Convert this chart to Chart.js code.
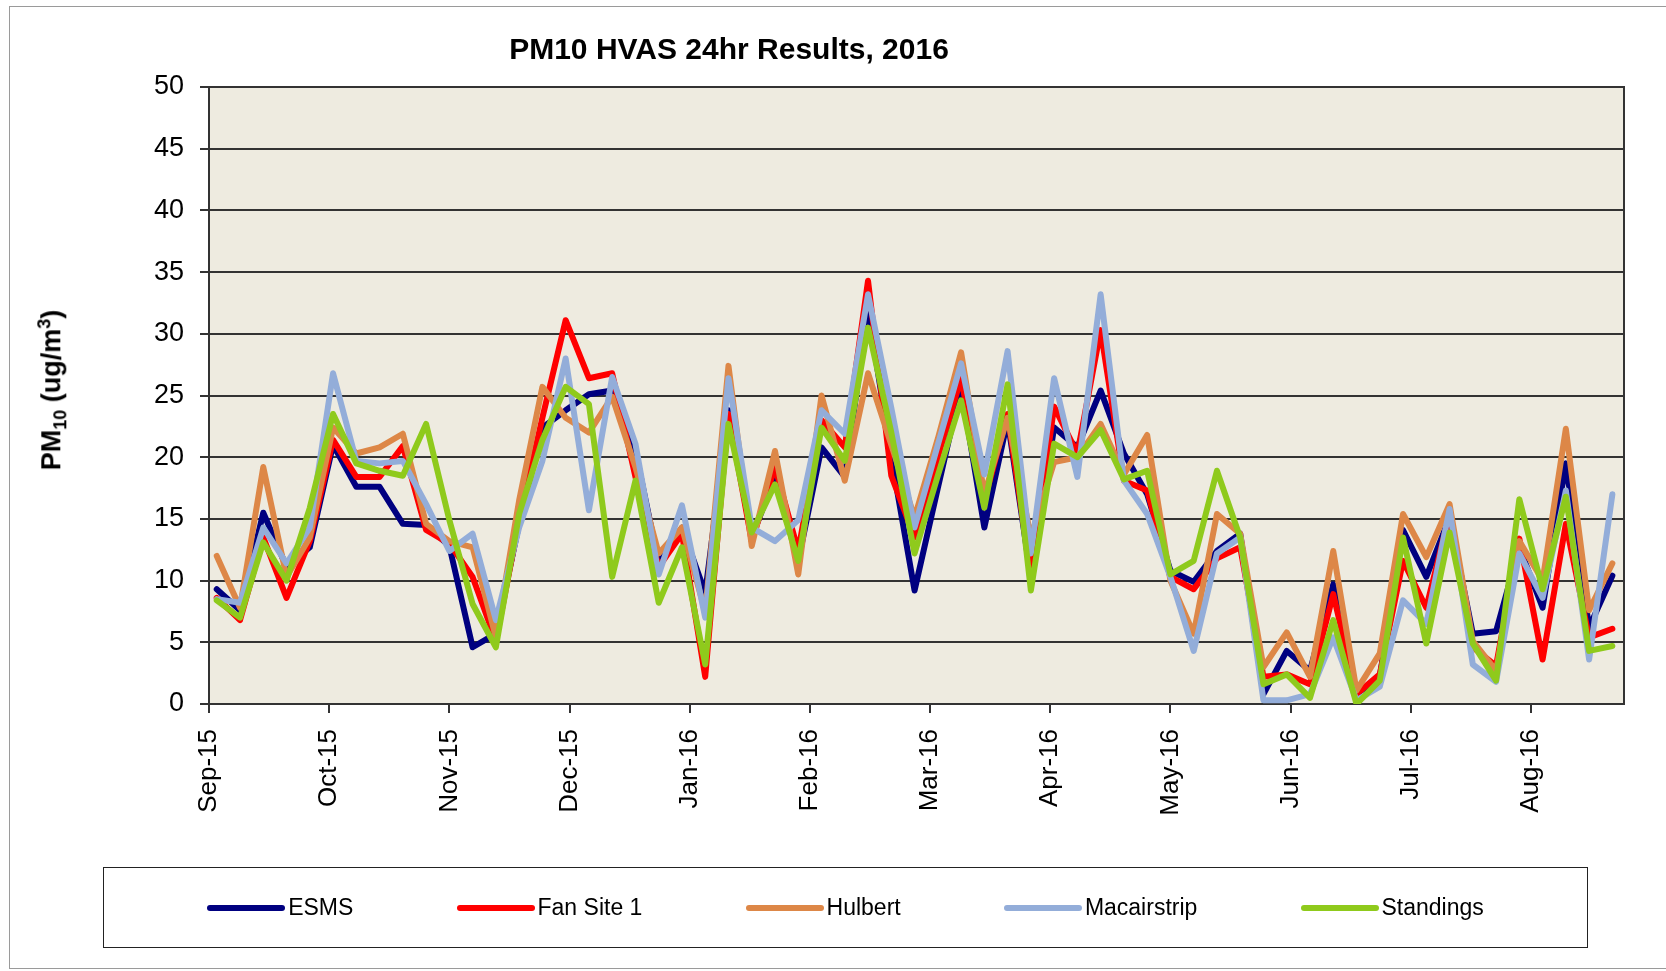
<!DOCTYPE html>
<html>
<head>
<meta charset="utf-8">
<script src="https://cdn.jsdelivr.net/npm/chart.js@4.4.0/dist/chart.umd.min.js"></script>
<style>
  body { margin: 0; background: #fff; font-family: 'Liberation Sans', Arial, sans-serif; }
  #wrap { position: relative; width: 1666px; height: 971px; overflow: hidden; }
  #frame { position: absolute; left: 9px; top: 6px; width: 1700px; height: 961px; border: 1px solid #9a9a9a; }
  #pm { position: absolute; left: 0; top: 0; }
  #title { position: absolute; left: 0; width: 1458px; top: 32px; text-align: center; font-weight: bold; font-size: 30px; }
  #ylab { position: absolute; left: 53px; top: 390px; transform: translate(-50%, -50%) rotate(-90deg);
          white-space: nowrap; font-weight: bold; font-size: 27px; }
  #ylab sub, #ylab sup { font-size: 18px; }
  #legend { position: absolute; left: 103px; top: 867px; width: 1483px; height: 79px; border: 1.5px solid #222;
            display: flex; justify-content: space-evenly; align-items: center; }
  .item { display: flex; align-items: center; font-size: 23px; }
  .swatch { width: 78px; height: 6px; border-radius: 3px; margin-right: 3px; }
</style>
</head>
<body>
<div id="wrap">
  <div id="frame"></div>
  <canvas id="pm" width="1666" height="971"></canvas>
  <div id="title">PM10 HVAS 24hr Results, 2016</div>
  <div id="ylab">PM<sub>10</sub> (ug/m<sup>3</sup>)</div>
  <div id="legend"></div>
</div>
<script>
// sampling day, counted from 1 Sep 2015 (one sample every 6 days)
const sampleDays = [2, 8, 14, 20, 26, 32, 38, 44, 50, 56, 62, 68, 74, 80, 86, 92, 98, 104, 110, 116,
  122, 128, 134, 140, 146, 152, 158, 164, 170, 176, 182, 188, 194, 200, 206, 212, 218, 224, 230, 236,
  242, 248, 254, 260, 266, 272, 278, 284, 290, 296, 302, 308, 314, 320, 326, 332, 338, 344, 350, 356, 362];

const monthTicks = [0, 31, 62, 93, 124, 155, 186, 217, 248, 279, 310, 341];
const monthLabels = ['Sep-15', 'Oct-15', 'Nov-15', 'Dec-15', 'Jan-16', 'Feb-16',
  'Mar-16', 'Apr-16', 'May-16', 'Jun-16', 'Jul-16', 'Aug-16'];

const esms = [9.3, 7.6, 15.5, 11.1, 12.7, 21.0, 17.6, 17.6, 14.6, 14.5, 12.8, 4.6, 5.7, 14.6, 22.4,
  23.8, 25.1, 25.4, 20.5, 11.4, 14.3, 9.0, 23.8, 13.5, 18.4, 11.6, 20.8, 18.4, 32.0, 20.0,
  9.2, 17.5, 25.7, 14.3, 23.0, 10.3, 22.4, 20.8, 25.4, 20.3, 17.0, 10.8, 9.9, 12.4, 13.8,
  0.8, 4.3, 2.7, 9.7, 0.8, 2.2, 14.1, 10.3, 15.1, 5.7, 5.9, 12.7, 7.8, 19.5, 6.2, 10.4];
const fanSite1 = [8.6, 6.8, 13.5, 8.6, 13.2, 21.4, 18.4, 18.4, 20.9, 14.1, 13.0, 10.3, 5.1, 14.9, 23.2,
  31.1, 26.4, 26.8, 18.4, 11.1, 13.8, 2.2, 23.5, 13.2, 19.2, 12.4, 23.0, 20.8, 34.3, 18.5,
  13.5, 20.0, 26.4, 16.5, 23.5, 10.5, 24.1, 20.3, 30.3, 18.1, 17.3, 10.3, 9.3, 11.8, 12.7,
  2.2, 2.4, 1.6, 8.9, 0.8, 2.4, 11.6, 7.8, 15.4, 4.6, 3.1, 13.4, 3.6, 14.6, 5.4, 6.1];
const hulbert = [12.0, 7.8, 19.2, 10.3, 13.5, 22.4, 20.3, 20.8, 21.9, 14.6, 13.2, 12.7, 5.4, 16.5, 25.7,
  23.2, 22.0, 24.9, 19.2, 12.2, 14.3, 7.5, 27.4, 12.8, 20.5, 10.5, 25.0, 18.1, 26.8, 21.0,
  15.1, 21.5, 28.5, 17.0, 23.2, 13.5, 19.6, 20.0, 22.7, 18.6, 21.8, 10.0, 5.7, 15.4, 13.8,
  3.0, 5.8, 2.2, 12.4, 1.1, 4.1, 15.4, 11.9, 16.2, 5.1, 2.7, 13.2, 10.0, 22.3, 7.6, 11.4];
const macairstrip = [8.5, 8.2, 14.3, 11.4, 14.3, 26.8, 19.7, 19.5, 19.7, 16.2, 12.4, 13.8, 6.8, 14.3, 19.7,
  28.0, 15.7, 26.5, 21.1, 10.5, 16.1, 7.0, 26.4, 14.3, 13.2, 14.9, 23.8, 21.9, 33.2, 24.0,
  14.3, 21.0, 27.6, 18.6, 28.6, 12.2, 26.4, 18.4, 33.2, 18.1, 15.4, 10.3, 4.3, 12.2, 13.5,
  0.3, 0.3, 0.8, 5.4, 0.3, 1.4, 8.4, 6.5, 15.8, 3.2, 1.8, 12.2, 8.6, 17.3, 3.6, 17.0];
const standings = [8.4, 7.0, 13.1, 10.0, 15.9, 23.5, 19.5, 18.9, 18.5, 22.7, 14.9, 8.1, 4.6, 15.4, 21.4,
  25.7, 24.3, 10.3, 18.1, 8.2, 12.7, 3.2, 22.7, 13.9, 17.8, 11.6, 22.4, 19.7, 30.5, 22.0,
  12.2, 18.5, 24.6, 15.9, 25.9, 9.2, 21.1, 20.0, 22.2, 18.2, 18.9, 10.5, 11.6, 18.9, 13.5,
  1.6, 2.4, 0.5, 6.8, 0.0, 1.9, 13.5, 4.9, 13.9, 4.9, 1.9, 16.6, 9.3, 16.8, 4.3, 4.7];

const series = [
  { name: 'ESMS', values: esms, color: '#000080' },
  { name: 'Fan Site 1', values: fanSite1, color: '#FF0000' },
  { name: 'Hulbert', values: hulbert, color: '#DD8747' },
  { name: 'Macairstrip', values: macairstrip, color: '#93ADD9' },
  { name: 'Standings', values: standings, color: '#8FCA1C' }
];

// plot background and frame, like the excel plot area
const plotBg = {
  id: 'plotBg',
  beforeDraw(chart) {
    const { ctx, chartArea: a } = chart;
    ctx.save();
    ctx.fillStyle = '#EEEBE0';
    ctx.fillRect(a.left, a.top, a.width, a.height);
    ctx.restore();
  },
  beforeDatasetsDraw(chart) {
    const { ctx, chartArea: a } = chart;
    ctx.save();
    ctx.strokeStyle = '#333';
    ctx.lineWidth = 2;
    ctx.strokeRect(a.left, a.top, a.width, a.height);
    ctx.restore();
  }
};

const datasets = series.map((s, i) => ({
  label: s.name,
  data: s.values.map((v, k) => ({ x: sampleDays[k], y: v })),
  borderColor: s.color,
  backgroundColor: s.color,
  borderWidth: 6,
  pointRadius: 0,
  tension: 0,
  borderJoinStyle: 'round',
  borderCapStyle: 'round',
  order: series.length - i
}));

const ctx = document.getElementById('pm').getContext('2d');
const myChart = new Chart(ctx, {
  type: 'line',
  data: { datasets: datasets },
  options: {
    responsive: false,
    animation: false,
    layout: { padding: { left: 149, top: 87, right: 42, bottom: 67 } },
    plugins: { legend: { display: false }, tooltip: { enabled: false } },
    scales: {
      x: {
        type: 'linear',
        min: 0,
        max: 365,
        afterFit: (s) => { s.height = 200; },
        afterBuildTicks: (s) => { s.ticks = monthTicks.map(v => ({ value: v })); },
        grid: { drawOnChartArea: false, drawTicks: true, tickLength: 9, color: '#333', lineWidth: 2 },
        border: { color: '#333', width: 2 },
        ticks: {
          autoSkip: false,
          minRotation: 90,
          maxRotation: 90,
          padding: 16,
          color: '#000',
          font: { family: "'Liberation Sans', Arial, sans-serif", size: 26 },
          callback: (value, index) => monthLabels[index]
        }
      },
      y: {
        min: 0,
        max: 50,
        afterFit: (s) => { s.width = 60; },
        grid: { color: '#333', lineWidth: 2, tickLength: 9 },
        border: { color: '#333', width: 2 },
        ticks: {
          stepSize: 5,
          padding: 16,
          color: '#000',
          font: { family: "'Liberation Sans', Arial, sans-serif", size: 27 }
        }
      }
    }
  },
  plugins: [plotBg]
});

// html legend in the boxed style of the original
const legend = document.getElementById('legend');
series.forEach(s => {
  const item = document.createElement('div');
  item.className = 'item';
  item.innerHTML = '<span class="swatch" style="background:' + s.color + '"></span>' + s.name;
  legend.appendChild(item);
});
</script>
</body>
</html>
